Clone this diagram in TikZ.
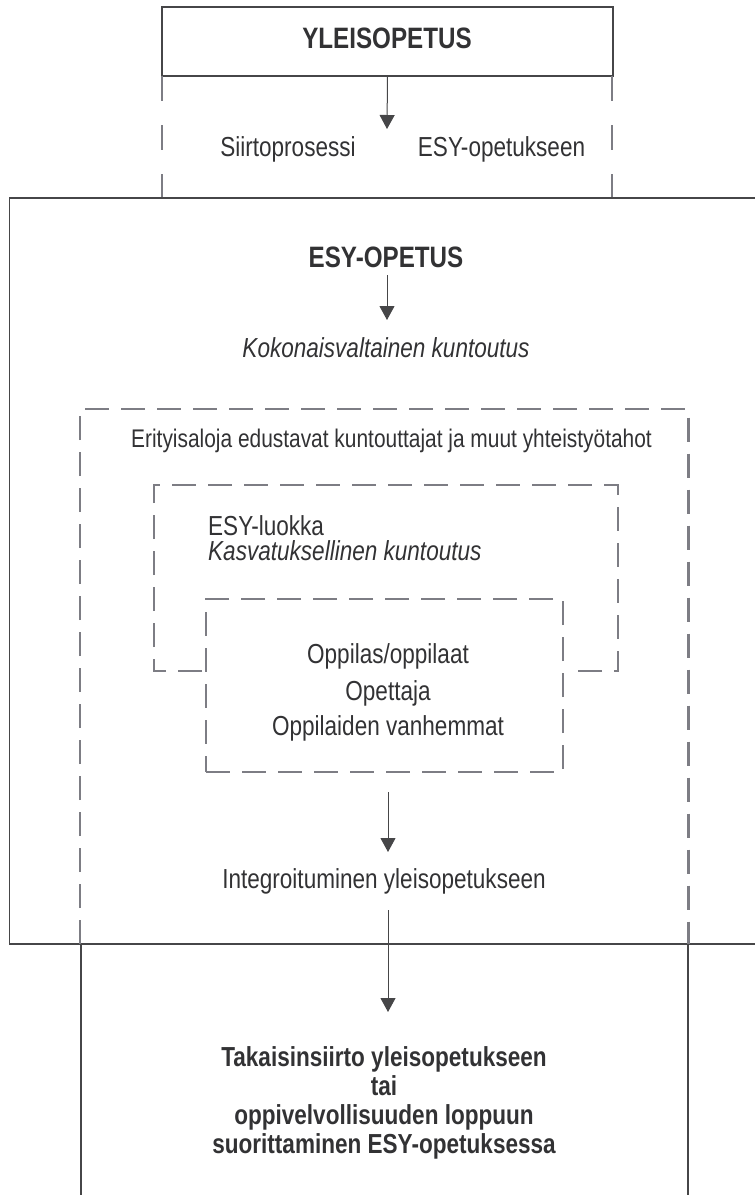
\documentclass[tikz,border=0pt]{standalone}
\usepackage{fontspec}
\setmainfont{Liberation Sans}[FakeStretch=0.82]
\usetikzlibrary{arrows.meta}
\definecolor{txt}{RGB}{50,50,52}
\definecolor{dashgray}{RGB}{125,125,132}
\definecolor{linegray}{RGB}{70,70,72}
\begin{document}
\begin{tikzpicture}[x=1pt,y=-1pt,
  solidline/.style={draw=linegray,line width=1.3pt},
  dashline/.style={draw=dashgray,line width=2.2pt,dash pattern=on 24pt off 12pt},
  conndash/.style={draw=dashgray,line width=2pt,dash pattern=on 25pt off 24pt},
  arrowline/.style={draw=linegray,line width=1pt,-{Triangle[width=15pt,length=14pt]}},
  lbl/.style={inner sep=0pt,anchor=base,text=txt,font=\fontsize{27.5}{30}\selectfont},
  lblit/.style={lbl,font=\fontsize{27.5}{30}\selectfont\itshape},
  head/.style={inner sep=0pt,anchor=base,text=txt,font=\fontsize{29.5}{33}\selectfont\bfseries},
  boxnode/.style={solidline,inner sep=0pt,fill=none}
]
\useasboundingbox (0,0) rectangle (755,1195);

% top box
\node[boxnode,minimum width=451pt,minimum height=69pt] (yl) at (387.5,41.5) {};
\node[head] (yltext) at (387,48) {YLEISOPETUS};

% dashed connectors from the top box
\coordinate (dl1) at (162,76);
\coordinate (dl2) at (162,198);
\coordinate (dr1) at (612,76);
\coordinate (dr2) at (612,198);
\draw[conndash] (dl1) -- (dl2);
\draw[conndash] (dr1) -- (dr2);

\coordinate (a1) at (387,129);
\draw[arrowline] (yl.south) -- (a1);
\node[lbl] (siirto) at (288,156) {Siirtoprosessi};
\node[lbl] (esyop) at (501.5,156) {ESY-opetukseen};

% big ESY box (open on the right)
\coordinate (bb1) at (760,198);
\coordinate (bb2) at (9.5,198);
\coordinate (bb3) at (9.5,944);
\coordinate (bb4) at (760,944);
\draw[solidline] (bb1) -- (bb2) -- (bb3) -- (bb4);

\node[head] (esy) at (386,267) {ESY-OPETUS};
\coordinate (a2s) at (387,275);
\coordinate (a2e) at (387,320);
\draw[arrowline] (a2s) -- (a2e);
\node[lblit] (koko) at (386,357) {Kokonaisvaltainen kuntoutus};

% dashed box 1
\coordinate (b1a) at (80,944);
\coordinate (b1b) at (80,409);
\coordinate (b1c) at (688.5,409);
\coordinate (b1d) at (688.5,944);
\draw[dashline] (b1a) -- (b1b) -- (b1c) -- (b1d);
\node[lbl,font=\fontsize{25.5}{30}\selectfont] (erit) at (391.5,447) {Erityisaloja edustavat kuntouttajat ja muut yhteistyötahot};

% solid continuation below the big box
\coordinate (s1a) at (81,944);
\coordinate (s1b) at (81,1200);
\coordinate (s2a) at (688,944);
\coordinate (s2b) at (688,1200);
\draw[solidline] (s1a) -- (s1b);
\draw[solidline] (s2a) -- (s2b);

% dashed box 2 (open at the bottom where box 3 overlaps)
\coordinate (b2a) at (202,671);
\coordinate (b2b) at (154,671);
\coordinate (b2c) at (154,485);
\coordinate (b2d) at (618,485);
\coordinate (b2e) at (618,671);
\coordinate (b2f) at (569,671);
\draw[dashline] (b2a) -- (b2b) -- (b2c) -- (b2d) -- (b2e) -- (b2f);
\node[lbl,anchor=base west] (luokka) at (208,535) {ESY-luokka};
\node[lblit,anchor=base west] (kasv) at (208,560) {Kasvatuksellinen kuntoutus};

% dashed box 3
\node[draw=dashgray,line width=2.2pt,dash pattern=on 24pt off 12pt,inner sep=0pt,
      minimum width=357pt,minimum height=173pt] (b3) at (384.5,685.5) {};
\node[lbl] (opp1) at (388,663) {Oppilas/oppilaat};
\node[lbl] (opp2) at (388,700) {Opettaja};
\node[lbl] (opp3) at (388,735) {Oppilaiden vanhemmat};

\coordinate (a3s) at (388,792);
\coordinate (a3e) at (388,852);
\draw[arrowline] (a3s) -- (a3e);
\node[lbl] (integ) at (384,888) {Integroituminen yleisopetukseen};

\coordinate (a4s) at (388,910);
\coordinate (a4e) at (388,1012);
\draw[arrowline] (a4s) -- (a4e);

\node[inner sep=0pt,anchor=base,text=txt,align=center,
      font=\fontsize{27.5}{29}\selectfont\bfseries] (taka) at (384,1153)
  {Takaisinsiirto yleisopetukseen\\tai\\oppivelvollisuuden loppuun\\suorittaminen ESY-opetuksessa};
\end{tikzpicture}
\end{document}
